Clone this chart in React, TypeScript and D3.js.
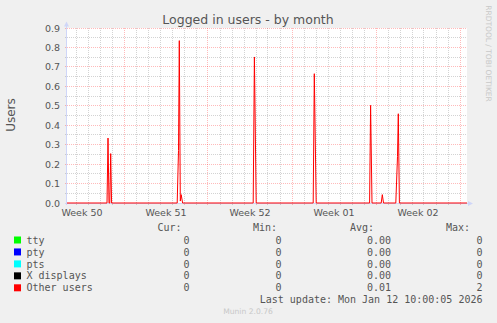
import React from "react";
import * as d3 from "d3";

const W = 497;
const H = 323;

// hours since graph start
const otherTimes = [
  0, 80, 82, 84, 85.6, 87.4, 89.2, 220.4, 223, 224.6, 226.6, 228.4, 231.2,
  372.4, 374.8, 378.4, 492.4, 494.6, 498.4, 605.2, 607.2, 610, 628.4, 630.6,
  633, 657.6, 661, 662.6, 664.8, 800,
];
const otherValues = [
  0, 0, 0.334, 0, 0, 0.254, 0, 0, 0.27, 0.835, 0.01, 0.043, 0, 0, 0.751, 0, 0,
  0.665, 0, 0, 0.502, 0, 0, 0.043, 0, 0, 0.24, 0.459, 0, 0,
];
const zeroTimes = [0, 800];
const ttyValues = [0, 0];
const ptyValues = [0, 0];
const ptsValues = [0, 0];
const xValues = [0, 0];

const weekStartHours = [114, 282, 450, 618, 786];
const weekLabels = ["Week 50", "Week 51", "Week 52", "Week 01", "Week 02"];
const yTicks = [0, 0.1, 0.2, 0.3, 0.4, 0.5, 0.6, 0.7, 0.8, 0.9];
const yTickLabels = ["0.0", "0.1", "0.2", "0.3", "0.4", "0.5", "0.6", "0.7", "0.8", "0.9"];
const yMinor = [0.05, 0.15, 0.25, 0.35, 0.45, 0.55, 0.65, 0.75, 0.85];

const legendNames = ["tty", "pty", "pts", "X displays", "Other users"];
const legendColors = ["#00FF00", "#0000FF", "#00FFFF", "#000000", "#FF0000"];
const curValues = ["0", "0", "0", "0", "0"];
const minValues = ["0", "0", "0", "0", "0"];
const avgValues = ["0.00", "0.00", "0.00", "0.00", "0.01"];
const maxValues = ["0", "0", "0", "0", "2"];

const X0 = 67, X1 = 467, Y0 = 203, Y1 = 28;

export default function App() {
  const x = d3.scaleLinear().domain([0, 800]).range([X0, X1]);
  const y = d3.scaleLinear().domain([0, 0.9]).range([Y0, Y1]);
  const crisp = (v: number) => Math.floor(v) + 0.5;

  const minorDays: number[] = [];
  for (let h = weekStartHours[0] - 24 * 4; h < 800; h += 24) {
    if (!weekStartHours.includes(h) && x(h) > X0 + 1) minorDays.push(h);
  }

  const line = d3
    .line<[number, number]>()
    .x((d) => x(d[0]))
    .y((d) => y(d[1]));

  // zero-valued series are completely hidden beneath "Other users" in the reference
  const series = [
    { t: zeroTimes, v: ttyValues, c: legendColors[0], show: false },
    { t: zeroTimes, v: ptyValues, c: legendColors[1], show: false },
    { t: zeroTimes, v: ptsValues, c: legendColors[2], show: false },
    { t: zeroTimes, v: xValues, c: legendColors[3], show: false },
    { t: otherTimes, v: otherValues, c: legendColors[4], show: true },
  ];

  const gridMinor = "rgba(140,140,140,0.38)";
  const gridMajor = "rgba(255,0,0,0.27)";
  const axisCol = "#CFD6F8";
  const font = "'DejaVu Sans', sans-serif";
  const mono = "'DejaVu Sans Mono', monospace";
  const txt = "#555555";
  const rowY = (i: number) => 240 + i * 11.95;

  return (
    <svg
      width={W}
      height={H}
      style={{ position: "absolute", left: 0, top: 0, display: "block" }}
      xmlns="http://www.w3.org/2000/svg"
    >
      <rect x={0} y={0} width={W} height={H} fill="#F0F0F0" />
      <rect x={X0} y={Y1} width={X1 - X0} height={Y0 - Y1} fill="#FFFFFF" />

      {/* minor grid */}
      <g stroke={gridMinor} strokeWidth={1} strokeDasharray="1,1" fill="none">
        {yMinor.map((v) => (
          <line key={"ym" + v} x1={X0 - 2} x2={X1} y1={crisp(y(v))} y2={crisp(y(v))} />
        ))}
        {minorDays.map((h) => (
          <line key={"xm" + h} x1={crisp(x(h))} x2={crisp(x(h))} y1={Y1} y2={Y0 + 2} />
        ))}
      </g>
      {/* major grid */}
      <g stroke={gridMajor} strokeWidth={1} strokeDasharray="1,1" fill="none">
        {yTicks.map((v) => (
          <line key={"yM" + v} x1={X0 - 2} x2={X1} y1={crisp(y(v))} y2={crisp(y(v))} />
        ))}
        {weekStartHours.map((h) => (
          <line key={"xM" + h} x1={crisp(x(h))} x2={crisp(x(h))} y1={Y1} y2={Y0 + 2} />
        ))}
      </g>

      {/* axes */}
      <line x1={X0 - 0.5} x2={X0 - 0.5} y1={Y0 + 2} y2={25} stroke={axisCol} />
      <polygon points={`${X0 - 3},26.5 ${X0 + 2},26.5 ${X0 - 0.5},21.5`} fill={axisCol} />
      <line x1={X0 - 2} x2={X1 + 1} y1={Y0 + 0.5} y2={Y0 + 0.5} stroke={axisCol} />
      <polygon points={`${X1 + 1},${Y0 - 2} ${X1 + 1},${Y0 + 3} ${X1 + 6},${Y0 + 0.5}`} fill={axisCol} />

      {/* data */}
      {series
        .filter((s) => s.show)
        .map((s, i) => (
          <path
            key={i}
            d={line(s.t.map((t, j) => [t, s.v[j]] as [number, number])) || ""}
            fill="none"
            stroke={s.c}
            strokeWidth={1}
            strokeLinejoin="miter"
          />
        ))}

      {/* y tick labels */}
      {yTicks.map((v, i) => (
        <text
          key={"yl" + v}
          x={60}
          y={y(v) + 3.5}
          textAnchor="end"
          fontFamily={font}
          fontSize={9.5}
          fill={txt}
        >
          {yTickLabels[i]}
        </text>
      ))}
      {/* x labels */}
      {weekStartHours.map((h, i) => (
        <text
          key={"xl" + h}
          x={x(h - 84)}
          y={215.7}
          textAnchor="middle"
          fontFamily={font}
          fontSize={9.5}
          fill={txt}
        >
          {weekLabels[i]}
        </text>
      ))}

      {/* title */}
      <text x={248} y={24} textAnchor="middle" fontFamily={font} fontSize={12.5} fill={txt}>
        Logged in users - by month
      </text>
      <text
        transform="translate(15,115) rotate(-90)"
        textAnchor="middle"
        fontFamily={font}
        fontSize={12}
        fill={txt}
      >
        Users
      </text>
      <text
        transform="translate(485.5,53.5) rotate(90)"
        textAnchor="middle"
        fontFamily={font}
        fontSize={7.5}
        fill="#C8C8C8"
      >
        RRDTOOL / TOBI OETIKER
      </text>

      {/* legend */}
      <g fontFamily={mono} fontSize={10} fill={txt}>
        <text x={181.5} y={230.6} textAnchor="end">Cur:</text>
        <text x={277} y={230.6} textAnchor="end">Min:</text>
        <text x={374} y={230.6} textAnchor="end">Avg:</text>
        <text x={470} y={230.6} textAnchor="end">Max:</text>
        {legendNames.map((n, i) => (
          <g key={n}>
            <rect x={14} y={rowY(i) - 3.5} width={7} height={7} fill={legendColors[i]} />
            <text x={26.5} y={rowY(i) + 3.6}>{n}</text>
            <text x={189.5} y={rowY(i) + 3.6} textAnchor="end">{curValues[i]}</text>
            <text x={281.5} y={rowY(i) + 3.6} textAnchor="end">{minValues[i]}</text>
            <text x={391} y={rowY(i) + 3.6} textAnchor="end">{avgValues[i]}</text>
            <text x={482.5} y={rowY(i) + 3.6} textAnchor="end">{maxValues[i]}</text>
          </g>
        ))}
        <text x={482.5} y={303.3} textAnchor="end">
          Last update: Mon Jan 12 10:00:05 2026
        </text>
      </g>
      <text x={248} y={314} textAnchor="middle" fontFamily={font} fontSize={7.6} fill="#C8C8C8">
        Munin 2.0.76
      </text>
    </svg>
  );
}
